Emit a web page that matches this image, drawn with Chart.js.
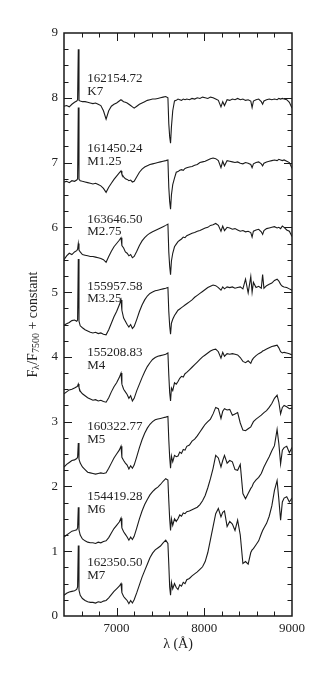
<!DOCTYPE html>
<html>
<head>
<meta charset="utf-8">
<script src="https://cdn.jsdelivr.net/npm/chart.js@4.4.1/dist/chart.umd.min.js"></script>
<style>
  html, body { margin: 0; padding: 0; background: #fff; }
  canvas { display: block; }
</style>
</head>
<body>
<canvas id="chart" width="332" height="674"></canvas>
<script>
// wavelength grid (Å), shared by all spectra
const waves = [
  6400, 6430, 6460, 6490, 6520, 6545, 6555, 6563, 6571, 6585,
  6610, 6640, 6670, 6700, 6730, 6760, 6790, 6820, 6850, 6880,
  6910, 6940, 6970, 7000, 7030, 7050, 7060, 7080, 7100, 7120,
  7140, 7160, 7180, 7200, 7230, 7260, 7290, 7320, 7350, 7380,
  7410, 7440, 7470, 7500, 7530, 7560, 7585, 7595, 7605, 7615,
  7625, 7640, 7660, 7680, 7700, 7720, 7740, 7760, 7780, 7800,
  7830, 7860, 7890, 7920, 7950, 7980, 8010, 8040, 8070, 8100,
  8130, 8160, 8190, 8210, 8230, 8260, 8290, 8320, 8350, 8380,
  8410, 8440, 8470, 8500, 8530, 8545, 8560, 8590, 8620, 8650,
  8665, 8680, 8710, 8740, 8770, 8800, 8830, 8850, 8870, 8890,
  8910, 8940, 8970, 9000
];

// F_lambda / F_7500 + constant
const fluxK7 = [
  7.87, 7.88, 7.86, 7.90, 7.93, 7.95, 7.97, 8.75, 7.96, 7.95,
  7.94, 7.94, 7.93, 7.92, 7.91, 7.92, 7.90, 7.88, 7.80, 7.67,
  7.80, 7.87, 7.90, 7.92, 7.95, 7.97, 7.96, 7.94, 7.93, 7.92,
  7.90, 7.88, 7.86, 7.84, 7.87, 7.90, 7.92, 7.94, 7.96, 7.97,
  7.98, 7.98, 7.99, 8.00, 8.01, 8.02, 8.00, 7.60, 7.40, 7.30,
  7.55, 7.80, 7.95, 7.96, 7.98, 7.97, 7.96, 7.98, 7.97, 7.98,
  7.97, 7.99, 7.98, 8.00, 7.99, 8.01, 8.00, 7.99, 8.01, 8.00,
  7.98, 7.96, 7.86, 7.94, 7.88, 7.97, 7.96, 7.98, 7.97, 7.99,
  7.97, 7.98, 7.96, 7.97, 7.95, 7.85, 7.95, 7.97, 7.98, 7.94,
  7.90, 7.95, 7.97, 7.98, 7.97, 7.98, 7.97, 7.99, 7.98, 7.99,
  7.98, 7.97, 7.93, 7.84
];
const fluxM125 = [
  6.70, 6.71, 6.69, 6.72, 6.71, 6.73, 6.75, 7.85, 6.74, 6.72,
  6.71, 6.70, 6.69, 6.68, 6.67, 6.68, 6.66, 6.64, 6.60, 6.54,
  6.62, 6.68, 6.74, 6.79, 6.84, 6.87, 6.82, 6.78, 6.75, 6.74,
  6.72, 6.73, 6.70, 6.71, 6.78, 6.85, 6.90, 6.93, 6.95, 6.97,
  6.98, 6.99, 7.00, 7.01, 7.02, 7.03, 7.04, 6.62, 6.40, 6.28,
  6.50, 6.66, 6.76, 6.85, 6.86, 6.88, 6.89, 6.88, 6.91, 6.92,
  6.93, 6.94, 6.96, 6.97, 7.00, 7.01, 7.02, 7.04, 7.06, 7.07,
  7.06, 7.03, 6.92, 7.02, 6.95, 7.03, 7.02, 7.01, 7.00, 7.01,
  6.99, 6.98, 7.00, 6.99, 6.97, 6.92, 6.98, 7.00, 7.01, 6.98,
  6.95, 6.99, 7.01, 7.02, 7.03, 7.04, 7.03, 7.05, 7.04, 7.03,
  7.04, 7.02, 7.00, 6.91
];
const fluxM275 = [
  5.50, 5.56, 5.60, 5.58, 5.62, 5.64, 5.66, 5.75, 5.65, 5.62,
  5.58, 5.57, 5.56, 5.55, 5.55, 5.54, 5.53, 5.52, 5.50, 5.46,
  5.55, 5.63, 5.70, 5.75, 5.80, 5.84, 5.72, 5.68, 5.62, 5.60,
  5.56, 5.58, 5.53, 5.55, 5.63, 5.72, 5.79, 5.84, 5.88, 5.91,
  5.93, 5.95, 5.97, 5.99, 6.01, 6.03, 6.05, 5.62, 5.40, 5.27,
  5.48, 5.60, 5.70, 5.74, 5.78, 5.80, 5.82, 5.85, 5.84, 5.87,
  5.89, 5.91, 5.92, 5.94, 5.95, 5.97, 5.99, 6.00, 6.03, 6.04,
  6.06, 6.03, 5.94, 6.02, 5.95, 6.00, 5.99, 5.97, 5.98, 5.96,
  5.94, 5.95, 5.93, 5.94, 5.92, 5.85, 5.94, 5.96, 5.97, 5.93,
  5.89, 5.95, 5.98, 5.99, 6.00, 6.01, 5.99, 6.00, 5.98, 6.02,
  6.00, 5.96, 5.94, 5.86
];
const fluxM325 = [
  4.49, 4.51, 4.53, 4.56, 4.57, 4.55, 4.57, 5.51, 4.55, 4.48,
  4.45, 4.42, 4.40, 4.38, 4.37, 4.38, 4.36, 4.37, 4.35, 4.34,
  4.42, 4.52, 4.62, 4.70, 4.80, 4.88, 4.72, 4.60, 4.55, 4.50,
  4.46, 4.50, 4.44, 4.47, 4.58, 4.70, 4.80, 4.88, 4.94, 4.98,
  5.00, 5.02, 5.03, 5.04, 5.05, 5.06, 5.07, 4.70, 4.48, 4.35,
  4.52, 4.58, 4.64, 4.68, 4.72, 4.74, 4.76, 4.78, 4.80, 4.82,
  4.85, 4.88, 4.92, 4.95, 4.98, 5.01, 5.04, 5.07, 5.09, 5.11,
  5.10, 5.07, 5.03, 5.08, 5.05, 5.08, 5.07, 5.08, 5.06, 5.07,
  5.08, 5.05, 5.20, 4.99, 5.24, 5.00, 5.15, 5.07, 5.09, 5.06,
  5.27, 5.06, 5.10, 5.12, 5.14, 5.18, 5.20, 5.17, 5.12, 5.09,
  5.08, 5.07, 5.05, 5.03
];
const fluxM4 = [
  3.43, 3.46, 3.49, 3.50, 3.52, 3.54, 3.55, 3.58, 3.53, 3.47,
  3.43, 3.40, 3.37, 3.35, 3.33, 3.34, 3.32, 3.33, 3.31, 3.30,
  3.37, 3.46, 3.54, 3.60, 3.68, 3.75, 3.58, 3.50, 3.46, 3.42,
  3.36, 3.40, 3.32, 3.36, 3.48, 3.58, 3.68, 3.77, 3.85, 3.91,
  3.96, 3.99, 4.01, 4.02, 4.03, 4.04, 4.06, 3.72, 3.45, 3.32,
  3.52, 3.48, 3.60, 3.58, 3.62, 3.67, 3.70, 3.69, 3.74, 3.76,
  3.80, 3.84, 3.88, 3.92, 3.96, 4.00, 4.03, 4.06, 4.09, 4.11,
  4.12, 4.08, 3.98, 4.07, 4.01, 4.05, 4.04, 4.05, 4.04, 4.03,
  3.99, 3.93, 3.91, 3.94, 3.90, 3.95, 3.98, 4.02, 4.05, 4.07,
  4.09, 4.10, 4.12, 4.14, 4.16, 4.17, 4.18, 4.14, 4.08, 4.06,
  4.07, 4.06, 4.05, 4.03
];
const fluxM5 = [
  2.30, 2.34, 2.37, 2.40, 2.41, 2.43, 2.45, 2.67, 2.42, 2.36,
  2.30, 2.26, 2.22, 2.21, 2.20, 2.19, 2.20, 2.21, 2.20, 2.21,
  2.28, 2.36, 2.44, 2.50, 2.56, 2.62, 2.45, 2.40, 2.36, 2.33,
  2.27, 2.32, 2.28, 2.33, 2.46, 2.60, 2.72, 2.82, 2.90, 2.96,
  3.00, 3.03, 3.04, 3.05, 3.06, 3.07, 3.08, 2.72, 2.45, 2.28,
  2.47, 2.38, 2.48, 2.46, 2.47, 2.53, 2.51, 2.57, 2.56, 2.62,
  2.64, 2.70, 2.73, 2.78, 2.84, 2.90, 2.96, 3.00, 3.04, 3.12,
  3.22, 3.20, 3.05, 3.16, 3.20, 3.18, 3.19, 3.10, 3.12, 3.14,
  2.98, 2.87, 2.86, 2.89, 2.92, 2.96, 3.00, 3.04, 3.07, 3.10,
  3.12, 3.14, 3.17, 3.22, 3.28, 3.36, 3.41, 3.30, 3.12, 3.22,
  3.25, 3.23, 3.20, 3.21
];
const fluxM6 = [
  1.22, 1.25, 1.28, 1.31, 1.32, 1.33, 1.36, 1.68, 1.33, 1.25,
  1.19, 1.16, 1.14, 1.13, 1.13, 1.12, 1.14, 1.13, 1.15, 1.16,
  1.21, 1.28, 1.35, 1.40, 1.45, 1.51, 1.36, 1.30, 1.26, 1.22,
  1.17, 1.22, 1.18, 1.23, 1.36, 1.50, 1.62, 1.72, 1.80, 1.87,
  1.92, 1.96, 1.99, 2.03, 2.08, 2.12, 2.10, 1.78, 1.50, 1.32,
  1.50, 1.40, 1.50, 1.46, 1.50, 1.56, 1.54, 1.59, 1.58, 1.61,
  1.62, 1.64, 1.66, 1.68, 1.72, 1.78, 1.86, 1.98, 2.12, 2.28,
  2.48, 2.44, 2.30, 2.40, 2.48, 2.36, 2.40, 2.38, 2.26, 2.25,
  2.34, 1.89, 1.81, 1.89, 1.97, 2.00, 2.05, 2.10, 2.14, 2.20,
  2.25, 2.30, 2.38, 2.46, 2.55, 2.63, 2.88, 2.66, 2.35, 2.56,
  2.60, 2.62, 2.52, 2.60
];
const fluxM7 = [
  0.32, 0.35, 0.37, 0.38, 0.39, 0.41, 0.45, 1.09, 0.40, 0.32,
  0.27, 0.24, 0.22, 0.21, 0.21, 0.20, 0.22, 0.21, 0.23, 0.24,
  0.28, 0.33, 0.38, 0.42, 0.46, 0.50, 0.36, 0.30, 0.27, 0.24,
  0.19, 0.24, 0.20, 0.25, 0.36, 0.48, 0.60, 0.70, 0.80, 0.90,
  0.97, 1.02, 1.05, 1.08, 1.13, 1.17, 1.12, 0.80, 0.45, 0.32,
  0.52, 0.42, 0.50, 0.44, 0.41, 0.48, 0.46, 0.52, 0.50, 0.56,
  0.58, 0.62, 0.65, 0.68, 0.72, 0.76, 0.84, 0.98, 1.18, 1.38,
  1.58, 1.66, 1.53, 1.60, 1.62, 1.38, 1.46, 1.42, 1.32, 1.48,
  1.25, 0.81, 0.84, 0.80, 0.98, 1.02, 1.04, 1.10, 1.16, 1.27,
  1.32, 1.36, 1.43, 1.54, 1.70, 1.94, 2.09, 1.80, 1.48, 1.76,
  1.82, 1.84, 1.76, 1.82
];

const starIds = ["162154.72", "161450.24", "163646.50", "155957.58",
                 "155208.83", "160322.77", "154419.28", "162350.50"];
const spTypes = ["K7", "M1.25", "M2.75", "M3.25", "M4", "M5", "M6", "M7"];
const fluxes = [fluxK7, fluxM125, fluxM275, fluxM325, fluxM4, fluxM5, fluxM6, fluxM7];
const xTickValues = [7000, 8000, 9000];

// where each star's two-line label sits (Å, y of first line)
const labelX = 6665;
const labelY = [8.29, 7.21, 6.12, 5.09, 4.06, 2.92, 1.84, 0.82];

const SERIF = "'Liberation Serif', 'Times New Roman', serif";
const INK = "#1a1a1a";

// frame with inward ticks on all four sides
const frame = {
  id: "frame",
  afterDraw(chart) {
    const { ctx, chartArea: a, scales: { x, y } } = chart;
    ctx.save();
    ctx.strokeStyle = INK;
    ctx.lineWidth = 1;
    ctx.beginPath();
    for (let v = 6600; v < 9000; v += 200) {
      const px = Math.round(x.getPixelForValue(v)) + 0.5;
      const len = v % 1000 === 0 ? 8 : 4.5;
      ctx.moveTo(px, a.bottom); ctx.lineTo(px, a.bottom - len);
      ctx.moveTo(px, a.top); ctx.lineTo(px, a.top + len);
    }
    for (let v = 0.25; v < 9; v += 0.25) {
      const py = Math.round(y.getPixelForValue(v)) + 0.5;
      const len = Math.abs(v - Math.round(v)) < 1e-6 ? 8 : 4.5;
      ctx.moveTo(a.left, py); ctx.lineTo(a.left + len, py);
      ctx.moveTo(a.right, py); ctx.lineTo(a.right - len, py);
    }
    ctx.stroke();
    ctx.lineWidth = 1.5;
    ctx.strokeRect(a.left, a.top, a.right - a.left, a.bottom - a.top);
    ctx.restore();
  }
};

// star id + spectral type next to each spectrum
const starLabels = {
  id: "starLabels",
  afterDatasetsDraw(chart) {
    const { ctx, scales: { x, y } } = chart;
    ctx.save();
    ctx.fillStyle = "#222";
    ctx.font = "13px " + SERIF;
    ctx.textBaseline = "middle";
    ctx.textAlign = "left";
    const px = x.getPixelForValue(labelX);
    starIds.forEach((id, i) => {
      const py = y.getPixelForValue(labelY[i]);
      ctx.fillText(id, px, py);
      ctx.fillText(spTypes[i], px, py + 12.5);
    });
    ctx.restore();
  }
};

// y title with subscripts: F_λ/F_7500 + constant
const yTitle = {
  id: "yTitle",
  afterDraw(chart) {
    const { ctx, chartArea: a } = chart;
    const parts = [["F", 0, 14], ["λ", 3, 10], ["/F", 0, 14], ["7500", 3, 10], [" + constant", 0, 14]];
    ctx.save();
    ctx.fillStyle = "#222";
    ctx.textBaseline = "middle";
    ctx.translate(33, (a.top + a.bottom) / 2);
    ctx.rotate(-Math.PI / 2);
    let total = 0;
    parts.forEach(p => { ctx.font = p[2] + "px " + SERIF; total += ctx.measureText(p[0]).width; });
    let cx = -total / 2;
    parts.forEach(p => {
      ctx.font = p[2] + "px " + SERIF;
      ctx.fillText(p[0], cx, p[1]);
      cx += ctx.measureText(p[0]).width;
    });
    ctx.restore();
  }
};

new Chart(document.getElementById("chart"), {
  type: "line",
  data: {
    datasets: fluxes.map((f, i) => ({
      label: starIds[i] + " " + spTypes[i],
      data: waves.map((w, j) => ({ x: w, y: f[j] })),
      borderColor: INK,
      borderWidth: 1.1,
      pointRadius: 0,
      tension: 0,
      fill: false
    }))
  },
  options: {
    responsive: false,
    animation: false,
    devicePixelRatio: 1,
    layout: { padding: { top: 33, right: 40, left: 0, bottom: 0 } },
    plugins: { legend: { display: false }, tooltip: { enabled: false } },
    scales: {
      x: {
        type: "linear",
        min: 6400,
        max: 9000,
        grid: { display: false, drawTicks: false },
        border: { display: false },
        afterBuildTicks: s => { s.ticks = xTickValues.map(v => ({ value: v })); },
        afterFit: s => { s.height = 58; },
        ticks: {
          padding: 5, color: "#222", maxRotation: 0, autoSkip: false,
          font: { family: SERIF, size: 13 },
          callback: v => String(v)
        },
        title: { display: true, text: "λ (Å)", color: "#222", font: { family: SERIF, size: 14 }, padding: { top: 0, bottom: 21 } }
      },
      y: {
        type: "linear",
        min: 0,
        max: 9,
        grid: { display: false, drawTicks: false },
        border: { display: false },
        afterFit: s => { s.width = 64; },
        ticks: { stepSize: 1, padding: 6, color: "#222", font: { family: SERIF, size: 13 }, callback: v => String(v) }
      }
    }
  },
  plugins: [frame, starLabels, yTitle]
});
</script>
</body>
</html>
